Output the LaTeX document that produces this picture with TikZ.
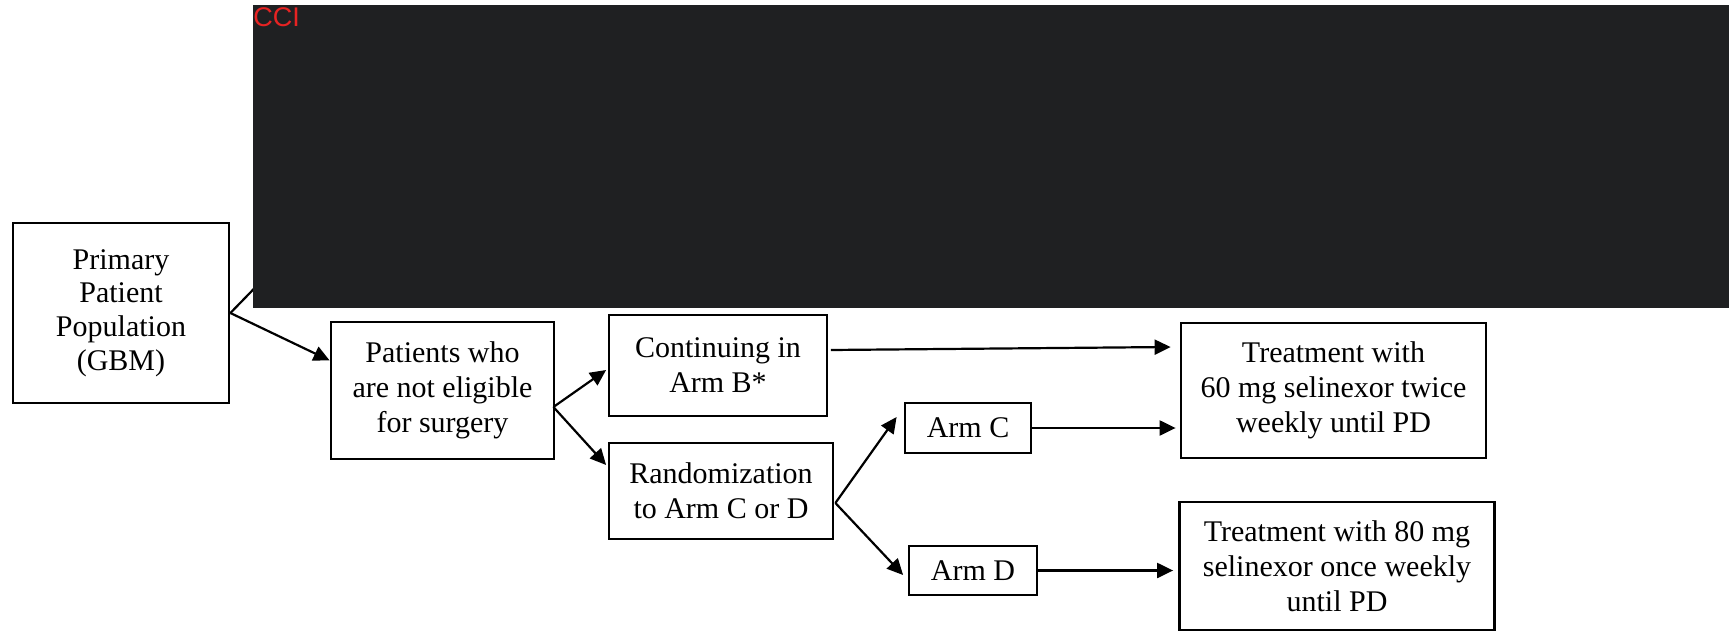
\documentclass[tikz,border=0pt]{standalone}
\usepackage{fontspec}
\setmainfont{Liberation Serif}
\newfontfamily\ccifont{Liberation Sans}
\usetikzlibrary{arrows.meta,calc}
\definecolor{redact}{RGB}{31,32,34}
\definecolor{ccired}{RGB}{230,35,35}
\begin{document}
\begin{tikzpicture}[x=0.5pt,y=-0.5pt,
  box/.style={draw, line width=1.4pt, align=center, inner sep=0pt,
              font=\rmfamily\fontsize{15}{17.5}\selectfont},
  conn/.style={line width=1.1pt, -{Triangle[length=8pt,width=7.5pt]}},
  plainline/.style={line width=1.1pt}]
\useasboundingbox (0,0) rectangle (1729,631);
% nodes
\node[box, minimum width=108pt, minimum height=90pt, font=\rmfamily\fontsize{15}{16.8}\selectfont] (prim) at (121,313) {Primary\\Patient\\Population\\(GBM)};
\node[box, minimum width=111.5pt, minimum height=68.5pt] (pat) at (442.5,390.5) {Patients who\\are not eligible\\for surgery};
\node[box, minimum width=109pt, minimum height=50.5pt] (cont) at (718,365.5) {Continuing in\\Arm B*};
\node[box, minimum width=112pt, minimum height=48pt] (rand) at (721,491) {Randomization\\to Arm C or D};
\node[box, minimum width=63pt, minimum height=25pt] (armc) at (968,428) {Arm C};
\node[box, minimum width=64pt, minimum height=24.5pt] (armd) at (973,570.5) {\raisebox{-2pt}{Arm D}};
\node[box, minimum width=152.5pt, minimum height=67.5pt] (t1) at (1333.5,390.5) {Treatment with\\60 mg selinexor twice\\weekly until PD};
\node[box, minimum width=157.5pt, minimum height=64pt] (t2) at (1337,566) {Treatment with 80 mg\\selinexor once weekly\\until PD};
% line into the redacted area
\coordinate (hid) at (280,262);
\draw[plainline] (prim.east) -- (hid);
\fill[redact] (253,5) rectangle (1729,308);
\node[anchor=north west, inner sep=0pt, text=ccired, font=\ccifont\fontsize{13.5}{15}\selectfont] (cci) at (253,7) {CCI};
% connectors
\draw[conn] (prim.east) -- ($(pat.north west)!0.285!(pat.south west)$);
\coordinate (pfork) at ($(pat.east)+(-2,16.5)$);
\draw[conn] (pfork) -- ($(cont.west)+(-1.5,4.5)$);
\draw[conn] (pfork) -- ($(rand.west)+(-1.5,-26)$);
\coordinate (rfork) at ($(rand.east)+(1,12)$);
\draw[conn] (rfork) -- ($(armc.west)+(-7,-11)$);
\draw[conn] (rfork) -- ($(armd.west)+(-4.5,4.5)$);
\draw[conn] ($(cont.east)+(2.5,-15.5)$) -- ($(t1.west)+(-9,-43.5)$);
\draw[conn] (armc.east) -- ($(t1.west |- armc.east)+(-4,0)$);
\draw[conn] (armd.east) -- ($(t2.west |- armd.east)+(-5,0)$);
\end{tikzpicture}
\end{document}
